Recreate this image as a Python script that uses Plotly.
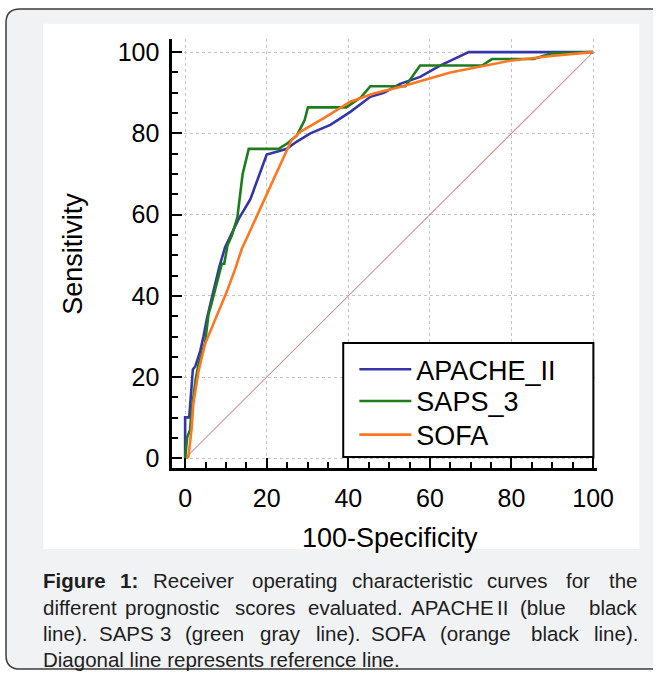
import plotly.graph_objects as go

W, H = 670, 675

# ---------------- data ----------------
apache_x = [0, 0, 1.0, 1.9, 2.5, 3.7, 4.5, 5.4, 6.9, 8.4, 9.8, 11.5, 13.1, 16.0, 20.0, 22.9, 24.9, 27.4,
            30.7, 35.6, 40.5, 45.4, 48.7, 52.7, 57.6, 62.5, 69.5, 100]
apache_y = [0, 10.1, 10.1, 21.9, 22.7, 26.4, 30.0, 34.7, 41.0, 47.2, 52.0, 55.5, 58.9, 63.8, 74.8, 75.6, 76.2, 78.0,
            80.0, 82.1, 85.3, 89.0, 90.0, 92.2, 93.9, 96.7, 100, 100]

saps_x = [0, 0.5, 1.2, 1.6, 2.6, 3.3, 4.9, 5.3, 5.7, 6.5, 7.4, 8.2, 9.0, 9.6, 10.4, 11.5, 12.8, 14.1, 15.6,
          22.9, 25.0, 27.4, 29.3, 30.1, 39.5, 43.1, 45.4, 54.0, 57.6, 72.8, 75.2, 85.4, 89.9, 100]
saps_y = [0, 5.2, 6.9, 11.8, 19.5, 23.2, 28.5, 32.9, 35.3, 38.2, 41.8, 45.0, 47.9, 47.9, 52.5, 55.0, 59.3, 70.0, 76.2,
          76.2, 77.5, 79.5, 83.3, 86.4, 86.4, 88.9, 91.6, 91.6, 96.7, 96.7, 98.3, 98.3, 99.7, 100]

sofa_x = [0.4, 0.8, 1.6, 2.0, 2.9, 3.3, 4.9, 7.8, 10.2, 12.3, 13.9, 15.1, 20.0, 26.0, 28.2, 33.9, 40.5, 46.2,
          52.7, 65.0, 79.7, 90.3, 100]
sofa_y = [0, 0.4, 7.3, 13.4, 19.0, 21.5, 28.2, 35.3, 41.0, 46.7, 51.6, 54.2, 65.0, 78.2, 80.4, 83.7, 87.8, 89.8,
          91.4, 95.0, 97.9, 99.1, 100]

ref_x = [0, 100]
ref_y = [0, 100]

tick_vals = [0, 20, 40, 60, 80, 100]
tick_text = ["0", "20", "40", "60", "80", "100"]

series_names = ["APACHE_II", "SAPS_3", "SOFA"]
series_colors = ["#3535a8", "#1e7b1e", "#ff7722"]

caption_lines = [
    [("<b>Figure</b>", "l", 40.6), ("<b>1:</b>", "c", 128.5), ("Receiver", "c", 193), ("operating", "c", 294.5),
     ("characteristic", "c", 412.5), ("curves", "c", 517), ("for", "c", 577.5), ("the", "r", 640)],
    [("different", "l", 40.6), ("prognostic", "c", 172.5), ("scores", "c", 264.5), ("evaluated.", "c", 355.5),
     ("APACHE", "c", 452), ("II", "c", 502.5), ("(blue", "c", 542.5), ("black", "r", 640)],
    [("line).", "l", 40.6), ("SAPS", "c", 126), ("3", "c", 165.5), ("(green", "c", 214.5), ("gray", "c", 280),
     ("line).", "c", 337.5), ("SOFA", "c", 398.5), ("(orange", "c", 475.5), ("black", "c", 555.5),
     ("line).", "r", 640)],
    [("Diagonal line represents reference line.", "l", 40.6)],
]
caption_y = [584.5, 611.5, 638.5, 664.5]

# ---------------- layout geometry (target pixels) ----------------
# the photographed page comes out horizontally compressed by this factor,
# so horizontal positions are laid out pre-stretched by its inverse
KX = 1 / 0.974

X0PX, X100PX = 185.0, 592.7
Y0PX, Y100PX = 461.5, 51.6
PLOT_L, PLOT_R, PLOT_T, PLOT_B = 172, 597, 38, 471
sx = (X100PX - X0PX) / 100
sy = (Y0PX - Y100PX) / 100
x_range = [(PLOT_L - X0PX) / sx, (PLOT_R - X0PX) / sx]
y_range = [(Y0PX - PLOT_B) / sy, (Y0PX - PLOT_T) / sy]
legend_item_y = [372, 404, 438]


def pxx(v):
    return min(v * KX, W) / W


def pxy(v):
    return 1 - v / H


FONT = "Liberation Sans, Arial, Helvetica, sans-serif"
GRAY = "#f1f2f4"

fig = go.Figure()
fig.add_trace(go.Scatter(x=ref_x, y=ref_y, mode="lines", line=dict(color="#c99a9a", width=1.1),
                         showlegend=False, hoverinfo="skip"))
legend_ids = ["legend", "legend2", "legend3"]
for xs, ys, nm, col, lg in zip([apache_x, saps_x, sofa_x], [apache_y, saps_y, sofa_y], series_names,
                               series_colors, legend_ids):
    fig.add_trace(go.Scatter(x=xs, y=ys, mode="lines", name=nm, legend=lg, line=dict(color=col, width=2.6)))

axis_common = dict(
    tickvals=tick_vals, ticktext=tick_text, ticks="inside", tickwidth=2, tickcolor="black",
    showline=True, linecolor="black", linewidth=2.5, mirror=False,
    showgrid=True, gridcolor="#c4c4c4", gridwidth=1, griddash="dot", zeroline=False,
    tickfont=dict(family=FONT, size=25, color="black"),
    fixedrange=True,
)

legend_style = dict(xanchor="left", yanchor="middle", bgcolor="rgba(0,0,0,0)", borderwidth=0,
                    font=dict(family=FONT, size=27, color="black"), itemwidth=52)
leg_x = (359 * KX - 5) / W

fig.update_layout(
    width=W - 16, height=H - 16, margin=dict(l=0, r=0, t=0, b=0),
    paper_bgcolor="white", plot_bgcolor="white",
    font=dict(family=FONT, color="black"),
    xaxis=dict(domain=[pxx(PLOT_L), pxx(PLOT_R)], range=x_range, ticklen=10, ticklabelstandoff=6,
               minor=dict(dtick=5, ticks="inside", ticklen=6, tickwidth=1.5, tickcolor="black", showgrid=False),
               **axis_common),
    yaxis=dict(domain=[pxy(PLOT_B), pxy(PLOT_T)], range=y_range, ticklen=10 * KX, ticklabelstandoff=5,
               minor=dict(dtick=5, ticks="inside", ticklen=6 * KX, tickwidth=1.5, tickcolor="black",
                          showgrid=False),
               **axis_common),
    showlegend=True,
    legend=dict(x=leg_x, y=pxy(legend_item_y[0]), **legend_style),
    legend2=dict(x=leg_x, y=pxy(legend_item_y[1]), **legend_style),
    legend3=dict(x=leg_x, y=pxy(legend_item_y[2]), **legend_style),
)

# background decorations: rounded gray panel (right side runs past the page edge)
r = 14
L, T, B = 6, 8, 674
RR = W / KX + 2
fill_path = (f"M {pxx(L + r)},{pxy(T)} L {pxx(RR)},{pxy(T)} L {pxx(RR)},{pxy(B)} "
             f"L {pxx(L + r)},{pxy(B)} Q {pxx(L)},{pxy(B)} {pxx(L)},{pxy(B - r)} "
             f"L {pxx(L)},{pxy(T + r)} Q {pxx(L)},{pxy(T)} {pxx(L + r)},{pxy(T)} Z")
fig.add_shape(type="path", path=fill_path, xref="paper", yref="paper", line=dict(width=0),
              fillcolor=GRAY, layer="below")
edge_path = (f"M {pxx(RR)},{pxy(T)} L {pxx(L + r)},{pxy(T)} Q {pxx(L)},{pxy(T)} {pxx(L)},{pxy(T + r)} "
             f"L {pxx(L)},{pxy(B - r)} Q {pxx(L)},{pxy(B)} {pxx(L + r)},{pxy(B)} L {pxx(RR)},{pxy(B)}")
fig.add_shape(type="path", path=edge_path, xref="paper", yref="paper", line=dict(color="#3c3c3c", width=1.5),
              layer="below")
fig.add_shape(type="rect", xref="paper", yref="paper", x0=pxx(43), x1=pxx(639), y0=pxy(553), y1=pxy(23),
              fillcolor="white", line=dict(width=0), layer="below")
# legend frame
fig.add_shape(type="rect", xref="paper", yref="paper", x0=pxx(343), x1=pxx(593), y0=pxy(460), y1=pxy(345),
              fillcolor="white", line=dict(color="black", width=2), layer="above")

# axis titles
fig.add_annotation(text="Sensitivity", xref="paper", yref="paper", x=pxx(73), y=pxy(255), textangle=-90,
                   showarrow=False, xanchor="center", yanchor="middle", font=dict(family=FONT, size=27, color="black"))
fig.add_annotation(text="100-Specificity", xref="paper", yref="paper", x=pxx(390), y=pxy(542),
                   showarrow=False, xanchor="center", yanchor="middle", font=dict(family=FONT, size=27, color="black"))

# caption (justified by word placement)
anc = {"l": "left", "c": "center", "r": "right"}
for line, yy in zip(caption_lines, caption_y):
    for word, a, xx in line:
        fig.add_annotation(text=word, xref="paper", yref="paper", x=pxx(xx), y=pxy(yy), showarrow=False,
                           xanchor=anc[a], yanchor="middle",
                           font=dict(family=FONT, size=20.5, color="#1e1e1e"))

post = ("document.documentElement.style.margin='0';document.body.style.margin='0';"
        "document.body.style.background='" + GRAY + "';"
        "var gd=document.getElementById('{plot_id}');gd.style.width='670px';gd.style.height='675px';"
        "Plotly.relayout(gd,{width:670,height:675});")
fig.write_html("out.html", config={"displayModeBar": False}, post_script=post)
